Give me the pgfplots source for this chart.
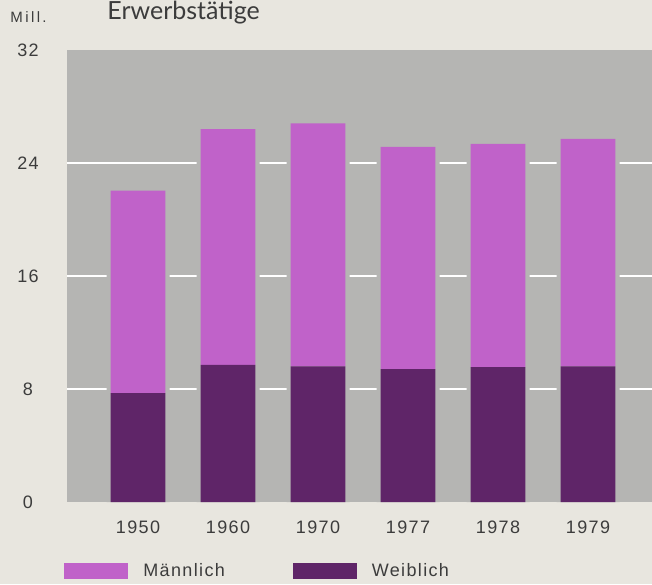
\documentclass[border=0pt]{standalone}
\usepackage{fontspec}
\setmainfont{Liberation Sans}[LetterSpace=7.5]
\newfontfamily\titlefont{Lato}
\usepackage{pgfplots}
\usepackage{pgfplotstable}
\pgfplotsset{compat=1.18}
\definecolor{paper}{HTML}{E8E6DF}
\definecolor{plotgray}{HTML}{B5B5B3}
\definecolor{male}{HTML}{C062C9}
\definecolor{female}{HTML}{5F2568}
\definecolor{txt}{HTML}{3C3C3C}
\pgfplotstableread{
x w m
0 7.70 14.35
1 9.70 16.70
2 9.60 17.20
3 9.40 15.75
4 9.55 15.80
5 9.60 16.10
}\data
\begin{document}
\begin{tikzpicture}
\fill[paper] (0,0) rectangle (326pt,292pt);
\path[use as bounding box] (0,0) rectangle (326pt,292pt);
% grid + gaps
\begin{axis}[
  at={(33.5pt,41pt)}, anchor=south west, scale only axis,
  width=292.5pt, height=226pt,
  xmin=-0.789, xmax=5.711, ymin=0, ymax=32,
  axis background/.style={fill=plotgray},
  axis line style={draw=none},
  xtick=\empty, ytick={8,16,24}, yticklabels={},
  major tick length=0pt,
  ymajorgrids, grid style={white, line width=1pt},
  ybar, bar width=0.70,
]
\addplot[fill=plotgray, draw=none] table[x=x, y expr=\thisrow{w}+\thisrow{m}] {\data};
\end{axis}
% data
\begin{axis}[
  at={(33.5pt,41pt)}, anchor=south west, scale only axis,
  width=292.5pt, height=226pt,
  xmin=-0.789, xmax=5.711, ymin=0, ymax=32,
  axis line style={draw=none},
  ybar stacked, bar width=0.61,
  xtick={0,1,2,3,4,5},
  xticklabels={1950,1960,1970,1977,1978,1979},
  ytick={0,8,16,24,32},
  major tick length=0pt,
  /pgf/number format/assume math mode=true,
  tick label style={font=\fontsize{9}{11}\selectfont, text=txt},
  yticklabel style={anchor=center, xshift=-19.5pt},
  xticklabel style={anchor=center, yshift=-12.75pt},
  legend columns=2,
  reverse legend,
  legend style={at={(axis description cs:0,0)}, anchor=west,
    xshift=-1.5pt, yshift=-34.5pt, draw=none, fill=none, inner sep=0pt,
    font=\fontsize{9}{11}\selectfont, text=txt,
    nodes={inner sep=0pt},
    /tikz/every odd column/.append style={column sep=7.5pt},
    /tikz/every even column/.append style={column sep=34pt}},
  legend image code/.code={\fill[#1] (0pt,-4pt) rectangle (32pt,4pt);},
]
\addplot[fill=female, draw=none] table[x=x, y=w] {\data};
\addplot[fill=male, draw=none] table[x=x, y=m] {\data};
\legend{Weiblich, Männlich}
\end{axis}
\node[anchor=base west, inner sep=0pt, text=txt, font=\fontsize{7.5}{9}\selectfont\addfontfeatures{LetterSpace=16}] at (5pt,280.5pt) {Mill.};
\node[anchor=base west, inner sep=0pt, text=txt, font=\titlefont\fontsize{12.5}{14}\selectfont] at (53.5pt,282pt) {Erwerbstätige};
\end{tikzpicture}
\end{document}
